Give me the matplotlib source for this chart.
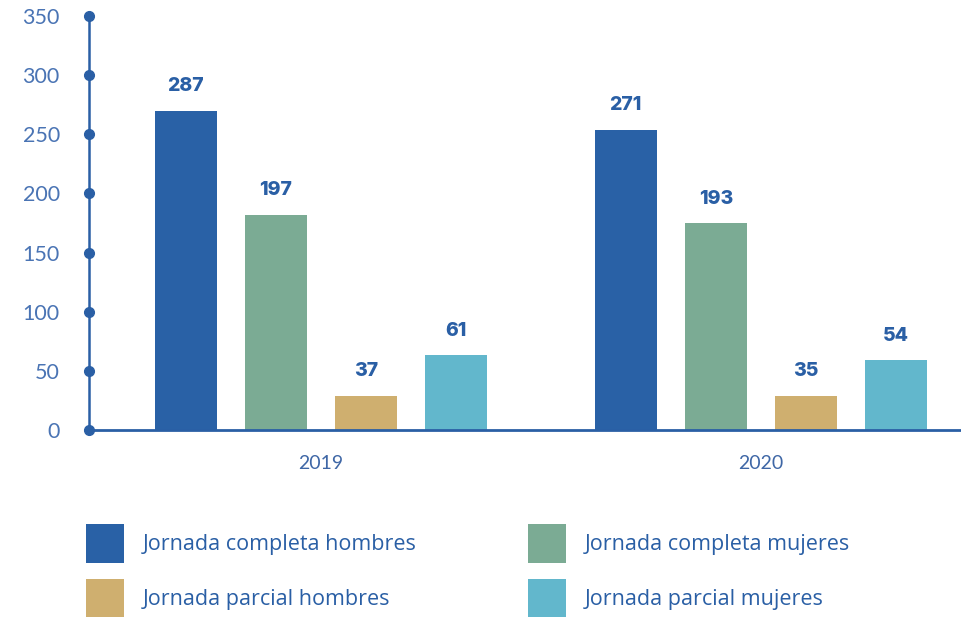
import numpy as np
import matplotlib.pyplot as plt
from matplotlib.patches import Patch

anios = ["2019", "2020"]
series = ["Jornada completa hombres", "Jornada completa mujeres",
          "Jornada parcial hombres", "Jornada parcial mujeres"]
alturas_2019 = [270, 182, 29, 63]
alturas_2020 = [254, 175, 29, 59]
etiquetas_2019 = ["287", "197", "37", "61"]
etiquetas_2020 = ["271", "193", "35", "54"]
colores = ["#2961a6", "#7bab94", "#cfaf6f", "#62b7cc"]
yticks = [0, 50, 100, 150, 200, 250, 300, 350]

azul = "#2a5fa5"
azul_claro = "#4a74b4"

fig = plt.figure(figsize=(9.61, 6.17), dpi=100)
ax = fig.add_axes([89 / 961, 1 - 430 / 617, 1 - 89 / 961, (430 - 16) / 617])

x = np.arange(len(anios))
paso = 0.205
ancho = 0.141
alturas = np.array([alturas_2019, alturas_2020])
etiquetas = [etiquetas_2019, etiquetas_2020]

for i, serie in enumerate(series):
    pos = x + (i - 1.5) * paso
    barras = ax.bar(pos, alturas[:, i], width=ancho, color=colores[i], label=serie, zorder=2)
    for j, b in enumerate(barras):
        ax.annotate(etiquetas[j][i], (b.get_x() + b.get_width() / 2, b.get_height()),
                    xytext=(0, 11), textcoords="offset points", ha="center", va="bottom",
                    fontsize=14, fontweight="heavy", color=azul, family="Inter")

ax.set_xlim(-0.527, 1.4545)
ax.set_ylim(0, 350)

# eje y con puntos
ax.plot(np.full(len(yticks), ax.get_xlim()[0]), yticks, "o", color=azul, ms=7,
        clip_on=False, zorder=5)

for s in ["top", "right"]:
    ax.spines[s].set_visible(False)
ax.spines["left"].set_color(azul)
ax.spines["left"].set_linewidth(1.8)
ax.spines["bottom"].set_color(azul)
ax.spines["bottom"].set_linewidth(2)

ax.set_yticks(yticks)
ax.set_yticklabels([str(t) for t in yticks], fontsize=15.5, color=azul_claro,
                   family="Lato", fontweight="normal")
ax.tick_params(axis="y", length=0, pad=21)
ax.set_xticks(x)
ax.set_xticklabels(anios, fontsize=14, color="#3f67a6", family="Lato", fontweight="normal")
ax.tick_params(axis="x", length=0, pad=18)

handles = [Patch(facecolor=c) for c in colores]
orden = [0, 2, 1, 3]
fig.legend([handles[k] for k in orden], [series[k] for k in orden], ncol=2,
           loc="upper left", bbox_to_anchor=(86 / 961, 1 - 524 / 617),
           frameon=False, handlelength=1.77, handleheight=2.41, handletextpad=0.88,
           labelspacing=0.74, columnspacing=5.15, borderaxespad=0, borderpad=0,
           prop={"family": "Open Sans", "size": 15.5}, labelcolor=azul)

fig.savefig("out.png", dpi=100)
